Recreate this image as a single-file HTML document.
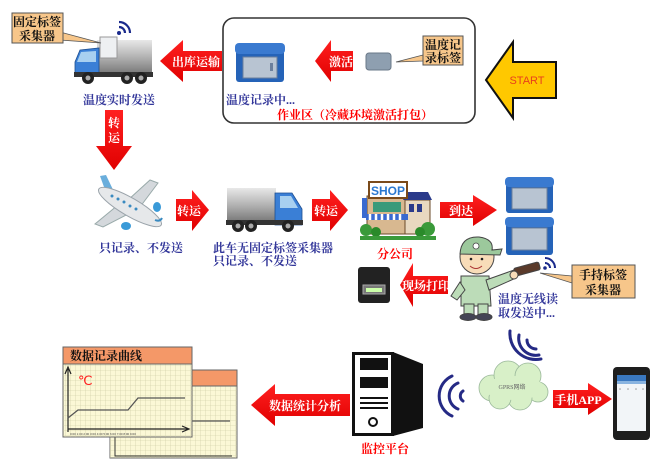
<!DOCTYPE html>
<html><head><meta charset="utf-8"><style>
html,body{margin:0;padding:0;background:#fff;}
svg{display:block;}
.t{font-family:"Liberation Serif","Noto Serif CJK SC",serif;font-weight:bold;}
.w{fill:#fff;font-size:12px;}
.b{fill:#33379a;font-size:12px;}
.r{fill:#ff0000;font-size:12px;}
.k{fill:#111;font-size:12px;}
</style></head><body>
<svg width="663" height="475" viewBox="0 0 663 475" xmlns="http://www.w3.org/2000/svg">
<defs>
<linearGradient id="gray" x1="0" y1="0" x2="0" y2="1"><stop offset="0" stop-color="#e8e8e8"/><stop offset="0.5" stop-color="#b4b4b4"/><stop offset="1" stop-color="#7a7a7a"/></linearGradient>
<linearGradient id="red" x1="0" y1="0" x2="0" y2="1"><stop offset="0" stop-color="#ff2020"/><stop offset="1" stop-color="#e00000"/></linearGradient>
<pattern id="grid" width="5" height="5" patternUnits="userSpaceOnUse"><path d="M5 0 L0 0 0 5" fill="none" stroke="#c9c7a0" stroke-width="0.6"/></pattern>
</defs>

<!-- Work area box -->
<rect x="223" y="18" width="252" height="105" rx="11" fill="none" stroke="#333" stroke-width="1.6"/>

<!-- START arrow -->
<path d="M486,80 L513,42 L513,62 L556,62 L556,98 L513,98 L513,118 Z" fill="#ffc800" stroke="#111" stroke-width="2"/>
<text x="527" y="84" text-anchor="middle" font-family="Liberation Sans,sans-serif" font-size="11" fill="#e8401c">START</text>

<!-- Tag + callout -->
<rect x="366" y="53" width="25" height="17" rx="3" fill="#8e9fb0" stroke="#6a7888"/>
<polygon points="423,55 423,61 396,62" fill="#f7c68a" stroke="#555" stroke-width="0.8"/>
<rect x="423" y="36" width="40" height="29" fill="#f7c68a" stroke="#555" stroke-width="1"/>
<text class="t k" x="443" y="49" text-anchor="middle" font-size="12">温度记</text>
<text class="t k" x="443" y="62" text-anchor="middle" font-size="12">录标签</text>

<!-- 激活 arrow -->
<path d="M315,61 L331,40 L331,51 L353,51 L353,71 L331,71 L331,82 Z" fill="url(#red)"/>
<text class="t w" x="341" y="66" text-anchor="middle">激活</text>

<!-- Cooler 1 -->
<rect x="236" y="50" width="48" height="32" rx="3" fill="#2563b8"/>
<rect x="235" y="43" width="50" height="11" rx="4" fill="#3a7ad0"/>
<rect x="243" y="57" width="34" height="21" fill="#b8c4d2" stroke="#6b7f9c"/>
<rect x="270" y="63" width="3" height="8" fill="#6b7f9c"/>
<text class="t b" x="226" y="104">温度记录中...</text>
<text class="t r" x="277" y="119" font-size="11">作业区（冷藏环境激活打包）</text>

<!-- 出库运输 arrow -->
<path d="M160,61 L183,40 L183,51 L222,51 L222,71 L183,71 L183,82 Z" fill="url(#red)"/>
<text class="t w" x="196" y="66" text-anchor="middle">出库运输</text>

<!-- Truck 1 -->
<rect x="97" y="40" width="55" height="33" fill="url(#gray)"/>
<path d="M80,50 L99,48 L99,76 L75,76 L75,62 Z" fill="#3a7fd6" stroke="#1e4f90" stroke-width="0.8"/>
<path d="M81,52 L96,51 L96,62 L77,62 Z" fill="#a8d0f0"/>
<rect x="74" y="72" width="79" height="5" fill="#333"/>
<circle cx="88" cy="78" r="6" fill="#222"/><circle cx="88" cy="78" r="2.5" fill="#aaa"/>
<circle cx="127" cy="78" r="6" fill="#222"/><circle cx="127" cy="78" r="2.5" fill="#aaa"/>
<circle cx="141" cy="78" r="6" fill="#222"/><circle cx="141" cy="78" r="2.5" fill="#aaa"/>
<rect x="100" y="37" width="17" height="21" fill="#eef0f2" stroke="#999"/>
<circle cx="119" cy="33" r="2" fill="#1a2a8c"/>
<path d="M119,27 A6,6 0 0 1 125,33" fill="none" stroke="#1a2a8c" stroke-width="2.2"/>
<path d="M119,22 A11,11 0 0 1 130,33" fill="none" stroke="#1a2a8c" stroke-width="2.2"/>
<!-- Callout 1 -->
<polygon points="60,32 60,40 101,43" fill="#f7c68a" stroke="#555" stroke-width="0.8"/>
<rect x="12" y="13" width="51" height="30" fill="#f7c68a" stroke="#555" stroke-width="1"/>
<text class="t k" x="37" y="26" text-anchor="middle">固定标签</text>
<text class="t k" x="37" y="40" text-anchor="middle">采集器</text>
<text class="t b" x="119" y="104" text-anchor="middle">温度实时发送</text>

<!-- 转运 down arrow -->
<path d="M105,110 L123,110 L123,146 L132,146 L114,170 L96,146 L105,146 Z" fill="url(#red)"/>
<text class="t w" x="114" y="127" text-anchor="middle">转</text>
<text class="t w" x="114" y="142" text-anchor="middle">运</text>

<!-- Plane -->
<g>
<polygon points="100,176 106,175 116,196 108,198" fill="#6aaedc"/>
<polygon points="118,205 95,224 103,227 134,211" fill="#d4d8dc" stroke="#9aa"/>
<polygon points="128,200 150,180 158,183 140,207" fill="#d4d8dc" stroke="#9aa"/>
<ellipse cx="130" cy="207" rx="36" ry="9" transform="rotate(30 130 207)" fill="#e6e8ea" stroke="#9aa3aa"/>
<circle cx="112" cy="196" r="1.5" fill="#3a8ac0"/><circle cx="118" cy="199" r="1.5" fill="#3a8ac0"/><circle cx="124" cy="202" r="1.5" fill="#3a8ac0"/><circle cx="130" cy="206" r="1.5" fill="#3a8ac0"/><circle cx="136" cy="209" r="1.5" fill="#3a8ac0"/>
<ellipse cx="126" cy="226" rx="5" ry="4" fill="#3a9ad8"/>
<ellipse cx="157" cy="207" rx="4" ry="5" fill="#3a9ad8"/>
<path d="M155,220 q5,2 7,-2" stroke="#3a8ac0" stroke-width="2" fill="none"/>
</g>
<text class="t b" x="99" y="252">只记录、不发送</text>

<!-- 转运 arrow 1 -->
<path d="M176,199 L192,199 L192,190 L209,210 L192,231 L192,221 L176,221 Z" fill="url(#red)"/>
<text class="t w" x="189" y="215" text-anchor="middle">转运</text>

<!-- Truck 2 -->
<rect x="227" y="188" width="49" height="33" fill="url(#gray)"/>
<path d="M275,193 L292,193 L302,209 L302,225 L275,225 Z" fill="#3a7fd6" stroke="#1e4f90" stroke-width="0.8"/>
<path d="M280,196 L291,196 L298,208 L280,208 Z" fill="#a8d0f0"/>
<rect x="226" y="220" width="77" height="5" fill="#333"/>
<circle cx="238" cy="226" r="6" fill="#222"/><circle cx="238" cy="226" r="2.5" fill="#aaa"/>
<circle cx="251" cy="226" r="6" fill="#222"/><circle cx="251" cy="226" r="2.5" fill="#aaa"/>
<circle cx="288" cy="226" r="6" fill="#222"/><circle cx="288" cy="226" r="2.5" fill="#aaa"/>
<text class="t b" x="213" y="252">此车无固定标签采集器</text>
<text class="t b" x="213" y="265">只记录、不发送</text>

<!-- 转运 arrow 2 -->
<path d="M312,199 L330,199 L330,190 L348,210 L330,231 L330,221 L312,221 Z" fill="url(#red)"/>
<text class="t w" x="326" y="215" text-anchor="middle">转运</text>

<!-- Shop -->
<g>
<rect x="367" y="196" width="40" height="38" fill="#d8b890" stroke="#6a4a2a"/>
<rect x="405" y="200" width="25" height="34" fill="#e8d8c0" stroke="#6a4a2a"/>
<polygon points="403,200 432,200 428,192 407,192" fill="#2a3a8a"/>
<rect x="409" y="204" width="5" height="8" fill="#2a3a8a"/><rect x="417" y="204" width="5" height="8" fill="#2a3a8a"/>
<rect x="369" y="182" width="38" height="16" fill="#fff" stroke="#7a4a1a" stroke-width="2"/>
<text x="388" y="195" text-anchor="middle" font-family="Liberation Sans,sans-serif" font-weight="bold" font-size="12" fill="#2a78d0">SHOP</text>
<rect x="373" y="202" width="28" height="10" fill="#3a9a7a"/>
<path d="M366,214 h42 v6 h-42 z" fill="#3a6ad0"/>
<path d="M370,214 v6 M376,214 v6 M382,214 v6 M388,214 v6 M394,214 v6 M400,214 v6" stroke="#fff" stroke-width="2.5"/>
<rect x="362" y="198" width="5" height="20" fill="#3a6ad0"/>
<circle cx="366" cy="230" r="6" fill="#3a9a3a"/><circle cx="376" cy="232" r="5" fill="#2a8a2a"/><circle cx="428" cy="229" r="7" fill="#3a9a3a"/><circle cx="420" cy="232" r="5" fill="#2a8a2a"/>
<rect x="360" y="236" width="76" height="4" fill="#3a9a3a"/>
</g>
<text class="t r" x="395" y="258" text-anchor="middle">分公司</text>

<!-- 到达 arrow -->
<path d="M440,202 L473,202 L473,195 L497,210 L473,226 L473,218 L440,218 Z" fill="url(#red)"/>
<text class="t w" x="461" y="215" text-anchor="middle">到达</text>

<!-- Coolers 2 -->
<rect x="506" y="182" width="47" height="31" rx="3" fill="#2563b8"/>
<rect x="505" y="177" width="49" height="10" rx="4" fill="#3a7ad0"/>
<rect x="512" y="188" width="35" height="21" fill="#b8c4d2" stroke="#6b7f9c"/>
<rect x="506" y="222" width="47" height="33" rx="3" fill="#2563b8"/>
<rect x="505" y="217" width="49" height="10" rx="4" fill="#3a7ad0"/>
<rect x="512" y="228" width="35" height="22" fill="#b8c4d2" stroke="#6b7f9c"/>

<!-- Man -->
<g stroke="#444" stroke-width="1">
<path d="M461,276 L489,276 L491,306 L461,306 Z" fill="#bcdcb8"/>
<path d="M486,280 L514,270 L516,278 L489,290 Z" fill="#bcdcb8"/>
<path d="M460,282 L451,296 L457,300 L465,290 Z" fill="#bcdcb8"/>
<rect x="464" y="304" width="10" height="12" fill="#bcdcb8"/>
<rect x="478" y="304" width="10" height="12" fill="#bcdcb8"/>
<ellipse cx="468" cy="317" rx="8" ry="3.5" fill="#445"/>
<ellipse cx="484" cy="317" rx="8" ry="3.5" fill="#445"/>
<circle cx="477" cy="257" r="17" fill="#f8dcb8"/>
<path d="M460,254 Q461,236 479,237 Q494,239 492,250 L502,249 L500,255 Z" fill="#9cc89c"/>
<rect x="514" y="265" width="26" height="8" rx="2" fill="#5a3a2a" transform="rotate(-15 527 269)"/>
<circle cx="514" cy="275" r="4" fill="#f8dcb8"/>
</g>
<circle cx="471" cy="259" r="1.3" fill="#222"/><circle cx="482" cy="259" r="1.3" fill="#222"/>
<circle cx="476" cy="246" r="3" fill="#fff" stroke="#444" stroke-width="0.8"/>
<path d="M470,266 Q476,271 482,266" stroke="#a33" fill="none"/>
<circle cx="545" cy="268" r="1.8" fill="#1a2a8c"/>
<path d="M545,263 A5,5 0 0 1 550,268" fill="none" stroke="#1a2a8c" stroke-width="2"/>
<path d="M545,258 A10,10 0 0 1 555,268" fill="none" stroke="#1a2a8c" stroke-width="2"/>
<!-- Callout 3 -->
<polygon points="572,276 572,283 540,273" fill="#f7c68a" stroke="#555" stroke-width="0.8"/>
<rect x="572" y="265" width="63" height="33" fill="#f7c68a" stroke="#555" stroke-width="1"/>
<text class="t k" x="603" y="279" text-anchor="middle">手持标签</text>
<text class="t k" x="603" y="294" text-anchor="middle">采集器</text>
<text class="t b" x="498" y="303">温度无线读</text>
<text class="t b" x="498" y="317">取发送中...</text>

<!-- Printer -->
<rect x="358" y="267" width="32" height="36" rx="3" fill="#222"/>
<rect x="363" y="285" width="22" height="9" fill="#777" stroke="#aaa"/>
<rect x="366" y="288" width="16" height="4" fill="#cfa"/>

<!-- 现场打印 arrow -->
<path d="M400,285 L413,263 L413,276 L448,276 L448,294 L413,294 L413,307 Z" fill="url(#red)"/>
<text class="t w" x="426" y="290" text-anchor="middle" font-size="11.5">现场打印</text>

<!-- Charts -->
<rect x="110" y="370" width="127" height="88" fill="#fbf8d6" stroke="#666"/>
<rect x="110" y="370" width="127" height="88" fill="url(#grid)"/>
<rect x="110" y="370" width="127" height="16" fill="#f49868" stroke="#666"/>
<path d="M128,421 L230,421" stroke="#555" stroke-width="1.2"/>
<path d="M115,390 L115,456 L232,456" stroke="#333" fill="none"/>

<rect x="63" y="347" width="129" height="90" fill="#fbf8d6" stroke="#666"/>
<rect x="63" y="364" width="129" height="73" fill="url(#grid)"/>
<rect x="63" y="347" width="129" height="17" fill="#f49868" stroke="#666"/>
<text class="t k" x="70" y="360">数据记录曲线</text>
<path d="M68,432 L68,369 M65,374 L68,367 L71,374" stroke="#222" fill="none" stroke-width="1.2"/>
<path d="M68,429 L188,429 M182,426 L189,429 L182,432" stroke="#222" fill="none" stroke-width="1.2"/>
<path d="M68,418 L78,410 L128,410 L138,398 L185,398" stroke="#555" fill="none" stroke-width="1.3"/>
<text x="78" y="385" font-family="Liberation Serif,serif" font-size="13" fill="#ff2020">℃</text>
<text x="70" y="435" font-family="Liberation Sans,sans-serif" font-size="3" fill="#444">0:00  1:00  2:00  3:00  4:00  5:00  6:00  7:00  8:00  9:00</text>

<!-- 数据统计分析 arrow -->
<path d="M251,405 L275,384 L275,394 L350,394 L350,416 L275,416 L275,426 Z" fill="url(#red)"/>
<text class="t w" x="305" y="410" text-anchor="middle" font-size="12.5">数据统计分析</text>

<!-- Server -->
<polygon points="393,352 423,364 423,428 393,436" fill="#111"/>
<rect x="353.5" y="353.5" width="39" height="81" fill="#fff" stroke="#111" stroke-width="3"/>
<rect x="360" y="358" width="28" height="12" fill="#111"/>
<rect x="360" y="377" width="28" height="11" fill="#111"/>
<rect x="360" y="397" width="28" height="2" fill="#111"/>
<rect x="360" y="402" width="28" height="2" fill="#111"/>
<rect x="360" y="407" width="28" height="2" fill="#111"/>
<circle cx="373" cy="422" r="4" fill="none" stroke="#111" stroke-width="2"/>
<text class="t r" x="385" y="453" text-anchor="middle">监控平台</text>

<!-- wifi arcs -->
<g fill="none" stroke="#252a85" stroke-width="3" stroke-linecap="round">
<path d="M463,391 A6,6 0 0 0 463,401"/>
<path d="M458,383 A14,14 0 0 0 458,409"/>
<path d="M452,376 A22,22 0 0 0 452,416"/>
<path d="M527,340 A9,9 0 0 0 536,349"/>
<path d="M519,335 A17,17 0 0 0 539,355"/>
<path d="M510,331 A26,26 0 0 0 541,359"/>
</g>

<!-- Cloud -->
<g fill="#d8f0c8" stroke="#9ab89a" stroke-width="0.8">
<circle cx="492" cy="388" r="13"/>
<circle cx="508" cy="375" r="14"/>
<circle cx="528" cy="376" r="13"/>
<circle cx="538" cy="392" r="10"/>
<circle cx="520" cy="398" r="12"/>
<circle cx="500" cy="398" r="11"/>
</g>
<ellipse cx="514" cy="388" rx="30" ry="12" fill="#d8f0c8"/>
<text x="512" y="389" text-anchor="middle" font-family="Liberation Serif,serif" font-size="6" fill="#666">GPRS网络</text>

<!-- 手机APP arrow -->
<path d="M553,390 L588,390 L588,383 L612,399 L588,415 L588,408 L553,408 Z" fill="url(#red)"/>
<text class="t w" x="578" y="404" text-anchor="middle">手机APP</text>

<!-- Phone -->
<rect x="613" y="367" width="37" height="73" rx="4" fill="#1e1e1e"/>
<rect x="617" y="375" width="29" height="56" fill="#f2f5f8"/>
<rect x="617" y="375" width="29" height="6" fill="#3a78c0"/>
<rect x="617" y="381" width="29" height="3" fill="#8ab4e0"/>
<circle cx="620" cy="389" r="0.8" fill="#999"/><circle cx="628" cy="389" r="0.8" fill="#999"/><circle cx="636" cy="389" r="0.8" fill="#999"/><circle cx="643" cy="389" r="0.8" fill="#999"/>
</svg>
</body></html>
